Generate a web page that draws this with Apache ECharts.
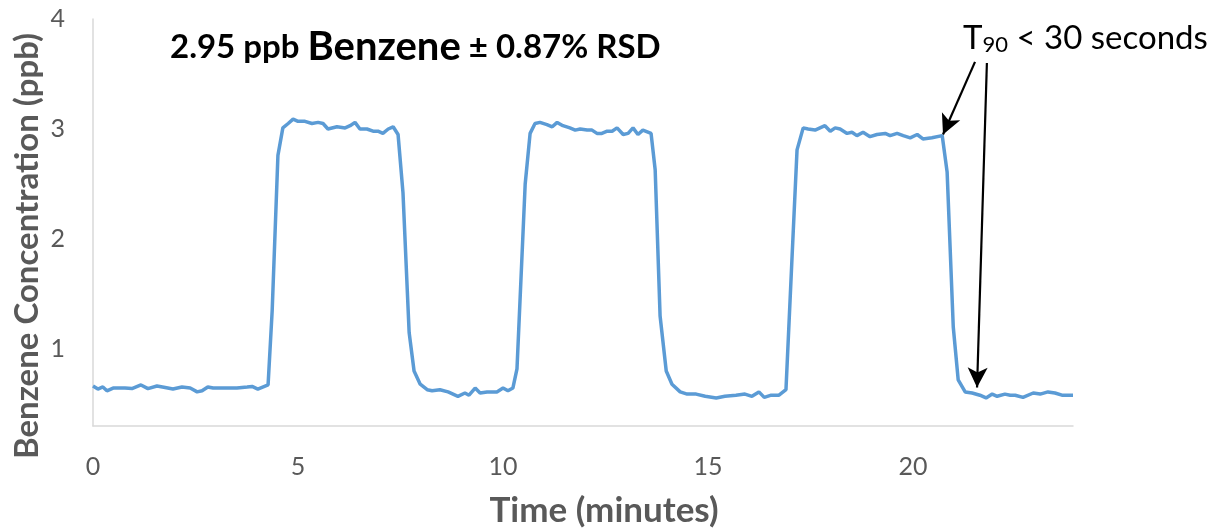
<!DOCTYPE html>
<html>
<head>
<meta charset="utf-8">
<script src="https://cdn.jsdelivr.net/npm/echarts@6/dist/echarts.min.js"></script>
<style>
  html, body { margin: 0; padding: 0; background: #ffffff; }
  #chart { width: 1225px; height: 531px; }
</style>
</head>
<body>
<div id="chart"></div>
<script>
// ---- data ----
const timeMin = [
  0.00, 0.12, 0.24, 0.34, 0.49, 0.63, 0.78, 0.95, 1.17, 1.34, 1.56, 1.76, 1.95, 2.17, 2.37, 2.54, 2.66, 2.80, 2.93, 3.10,
  3.29, 3.51, 3.76, 3.88, 4.02, 4.27, 4.37, 4.51, 4.63, 4.76, 4.88, 5.00, 5.17, 5.34, 5.49, 5.61, 5.73, 5.95, 6.15, 6.27,
  6.39, 6.51, 6.68, 6.83, 6.95, 7.07, 7.20, 7.32, 7.44, 7.56, 7.71, 7.83, 7.98, 8.15, 8.27, 8.46, 8.66, 8.90, 9.07, 9.17,
  9.32, 9.44, 9.61, 9.85, 10.00, 10.12, 10.24, 10.34, 10.54, 10.66, 10.78, 10.90, 11.07, 11.20, 11.32, 11.46, 11.63, 11.76, 11.88, 12.05,
  12.17, 12.29, 12.41, 12.54, 12.66, 12.78, 12.93, 13.05, 13.17, 13.29, 13.41, 13.61, 13.71, 13.83, 13.98, 14.12, 14.32, 14.49, 14.71, 14.93,
  15.20, 15.41, 15.68, 15.90, 16.07, 16.24, 16.37, 16.54, 16.73, 16.90, 17.05, 17.17, 17.32, 17.44, 17.61, 17.73, 17.85, 17.98, 18.10, 18.22,
  18.39, 18.51, 18.63, 18.78, 18.95, 19.12, 19.32, 19.44, 19.61, 19.76, 19.93, 20.10, 20.24, 20.46, 20.71, 20.83, 20.98, 21.10, 21.27, 21.44,
  21.63, 21.78, 21.93, 22.05, 22.24, 22.37, 22.49, 22.68, 22.93, 23.10, 23.29, 23.46, 23.63, 23.90
];
const benzenePpb = [
  0.664, 0.636, 0.655, 0.620, 0.645, 0.645, 0.645, 0.640, 0.673, 0.640, 0.664, 0.650, 0.636, 0.655, 0.645, 0.610, 0.620, 0.655, 0.645, 0.645,
  0.645, 0.645, 0.655, 0.660, 0.636, 0.673, 1.35, 2.76, 3.01, 3.05, 3.09, 3.07, 3.07, 3.05, 3.06, 3.05, 3.00, 3.02, 3.01, 3.03,
  3.06, 3.00, 3.00, 2.98, 2.98, 2.96, 3.00, 3.02, 2.95, 2.42, 1.15, 0.80, 0.68, 0.63, 0.62, 0.63, 0.61, 0.57, 0.60, 0.58,
  0.645, 0.60, 0.61, 0.61, 0.645, 0.62, 0.645, 0.82, 2.50, 2.96, 3.05, 3.06, 3.04, 3.02, 3.06, 3.03, 3.01, 2.99, 3.00, 2.99,
  2.99, 2.96, 2.96, 2.98, 2.98, 3.01, 2.95, 2.96, 3.01, 2.95, 2.99, 2.96, 2.63, 1.30, 0.80, 0.68, 0.61, 0.59, 0.59, 0.57,
  0.555, 0.57, 0.58, 0.59, 0.57, 0.61, 0.56, 0.58, 0.58, 0.63, 1.85, 2.81, 3.01, 3.00, 2.99, 3.01, 3.03, 2.98, 3.01, 3.00,
  2.96, 2.97, 2.94, 2.97, 2.93, 2.95, 2.96, 2.94, 2.96, 2.94, 2.92, 2.95, 2.91, 2.92, 2.94, 2.61, 1.20, 0.72, 0.61, 0.60,
  0.58, 0.555, 0.59, 0.57, 0.59, 0.58, 0.58, 0.56, 0.60, 0.59, 0.61, 0.60, 0.58, 0.58
];
const xTickLabels = [0, 5, 10, 15, 20];
const yTickLabels = [1, 2, 3, 4];
// annotation arrows: [start, end] in data coordinates (minutes, ppb)
const arrowRise = [[21.51, 3.61], [20.73, 2.95]];
const arrowFall = [[21.80, 3.60], [21.56, 0.65]];

const seriesData = timeMin.map((t, i) => [t, benzenePpb[i]]);

const FONT = 'Lato, "Open Sans", sans-serif';
const chart = echarts.init(document.getElementById('chart'), null, { renderer: 'canvas' });

chart.setOption({
  animation: false,
  backgroundColor: '#ffffff',
  grid: { left: 93, right: 152, top: 19, bottom: 105, containLabel: false },
  xAxis: {
    type: 'value',
    min: 0,
    max: 23.9,
    interval: 5,
    axisLine: { show: true, lineStyle: { color: '#D9D9D9', width: 1.5 } },
    axisTick: { show: false },
    splitLine: { show: false },
    axisLabel: {
      color: '#595959', fontSize: 25, fontFamily: FONT, margin: 28,
      customValues: xTickLabels,
      formatter: v => (xTickLabels.indexOf(v) >= 0 ? String(v) : '')
    }
  },
  yAxis: {
    type: 'value',
    min: 0.3,
    max: 4,
    axisLine: { show: true, lineStyle: { color: '#D9D9D9', width: 1.5 } },
    axisTick: { show: false },
    splitLine: { show: false },
    axisLabel: {
      color: '#595959', fontSize: 25, fontFamily: FONT, margin: 28,
      customValues: yTickLabels,
      formatter: v => (yTickLabels.indexOf(v) >= 0 ? String(v) : '')
    }
  },
  graphic: [
    {
      type: 'text', x: 27, y: 246, rotation: Math.PI / 2,
      style: {
        text: 'Benzene Concentration (ppb)', fill: '#595959',
        font: 'bold 33px ' + FONT, textAlign: 'center', textVerticalAlign: 'middle'
      }
    },
    {
      type: 'text', x: 604, y: 511,
      style: {
        text: 'Time (minutes)', fill: '#595959',
        font: 'bold 35px ' + FONT, textAlign: 'center', textVerticalAlign: 'middle'
      }
    },
    {
      type: 'text', x: 170, y: 47,
      style: {
        text: '{s|2.95 ppb }{b|Benzene}{s| ± 0.87% RSD}',
        textAlign: 'left', textVerticalAlign: 'middle',
        rich: {
          s: { fontSize: 33, fontWeight: 'bold', fontFamily: FONT, fill: '#000000' },
          b: { fontSize: 40, fontWeight: 'bold', fontFamily: FONT, fill: '#000000' }
        }
      }
    },
    {
      type: 'text', x: 963, y: 38,
      style: {
        text: '{t|T}{sub|90}{t| < 30 seconds}',
        textAlign: 'left', textVerticalAlign: 'middle',
        rich: {
          t: { fontSize: 33, fontFamily: FONT, fill: '#000000' },
          sub: { fontSize: 22, fontFamily: FONT, fill: '#000000', padding: [13, 0, 0, 0] }
        }
      }
    }
  ],
  series: [
    {
      type: 'line',
      data: seriesData,
      showSymbol: false,
      smooth: false,
      lineStyle: { color: '#5B9BD5', width: 3.5 },
      itemStyle: { color: '#5B9BD5' },
      markLine: {
        silent: true,
        symbol: ['none', 'arrow'],
        symbolSize: [15, 20],
        label: { show: false },
        lineStyle: { color: '#000000', width: 2.2, type: 'solid' },
        data: [
          [{ coord: arrowRise[0] }, { coord: arrowRise[1] }],
          [{ coord: arrowFall[0] }, { coord: arrowFall[1] }]
        ]
      }
    }
  ]
});
</script>
</body>
</html>
